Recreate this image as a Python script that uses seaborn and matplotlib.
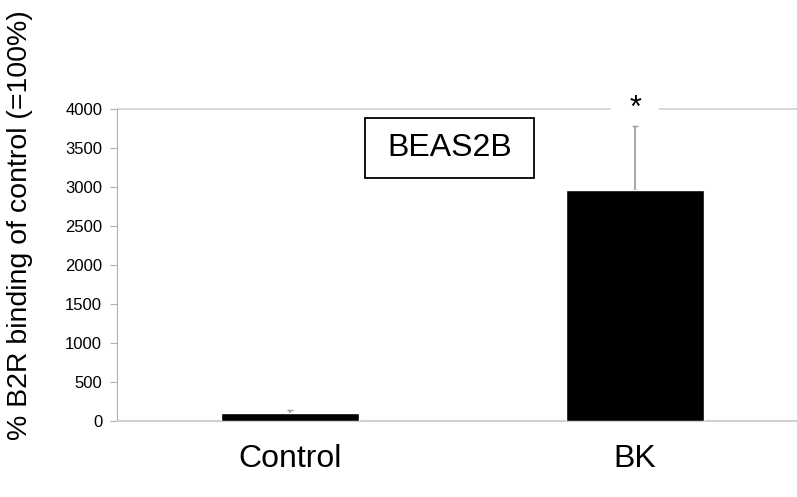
import matplotlib
matplotlib.use("Agg")
import matplotlib.pyplot as plt
from matplotlib.patches import Rectangle
import pandas as pd
import seaborn as sns

groups = ["Control", "BK"]
binding = [105, 2960]
err_upper = [35, 820]
y_ticks = [0, 500, 1000, 1500, 2000, 2500, 3000, 3500, 4000]

sns.set_style("white")
plt.rcParams["font.family"] = ["Liberation Sans", "DejaVu Sans"]
plt.rcParams["text.color"] = "black"
plt.rcParams["axes.labelcolor"] = "black"
plt.rcParams["xtick.color"] = "black"
plt.rcParams["ytick.color"] = "black"

df = pd.DataFrame({"group": groups, "value": binding})

fig = plt.figure(figsize=(7.97, 4.97), dpi=100)
ax = fig.add_axes([0.1474, 0.153, 0.866, 0.628])

sns.barplot(data=df, x="group", y="value", color="black", width=0.40,
            saturation=1, errorbar=None, ax=ax, zorder=3)

# upper error bars only; sit behind the bars so the lower cap is hidden
xs = [p.get_x() + p.get_width() / 2 for p in ax.patches]
ax.errorbar(xs, binding, yerr=[[0, 0], err_upper], fmt="none",
            ecolor="#999999", elinewidth=1.2, capsize=2, capthick=1, zorder=2.5)

ax.set_ylim(0, 4000)
ax.set_yticks(y_ticks)
ax.set_xlim(-0.5, 1.5)
ax.axhline(4000, color="#d0d0d0", lw=1.2, zorder=1, clip_on=False)

for side in ["top", "right"]:
    ax.spines[side].set_visible(False)
ax.spines["left"].set_color("#b0b0b0")
ax.spines["bottom"].set_color("#d0d0d0")
ax.spines["bottom"].set_linewidth(1.5)
ax.tick_params(axis="y", left=True, length=5, color="#b0b0b0", labelcolor="black",
               labelsize=12, pad=6)
ax.tick_params(axis="x", bottom=False, labelcolor="black", labelsize=23, pad=13)
ax.set_xlabel("")
ax.set_ylabel("% B2R binding of control (=100%)", fontsize=20.5, color="black")
ax.yaxis.set_label_coords(-0.122, 0.628)

ax.text(1, 4000, "*", ha="center", va="center", fontsize=22, color="black",
        bbox=dict(facecolor="white", edgecolor="none", pad=13), zorder=2)

# sample label box
ax.add_patch(Rectangle((0.358, 0.779), 0.246, 0.192, transform=ax.transAxes,
                       facecolor="white", edgecolor="black", lw=1.3, zorder=4))
ax.text(0.481, 0.875, "BEAS2B", transform=ax.transAxes, ha="center",
        va="center", fontsize=23, color="black", zorder=5)

fig.savefig("out.png", dpi=100)
